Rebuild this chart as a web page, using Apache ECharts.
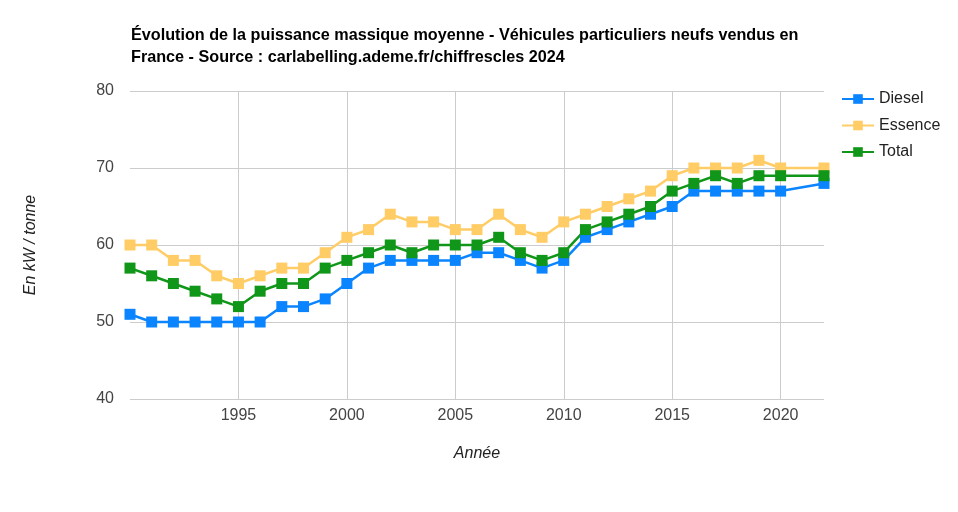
<!DOCTYPE html>
<html><head><meta charset="utf-8">
<script src="https://cdn.jsdelivr.net/npm/echarts@6/dist/echarts.min.js"></script>
<style>html,body{margin:0;padding:0;background:#fff}#c{width:958px;height:512px}</style>
</head><body><div id="c"></div>
<script>
const years = [1990,1991,1992,1993,1994,1995,1996,1997,1998,1999,2000,2001,2002,2003,2004,2005,2006,2007,2008,2009,2010,2011,2012,2013,2014,2015,2016,2017,2018,2019,2020,2022];
const diesel = [51,50,50,50,50,50,50,52,52,53,55,57,58,58,58,58,59,59,58,57,58,61,62,63,64,65,67,67,67,67,67,68];
const essence = [60,60,58,58,56,55,56,57,57,59,61,62,64,63,63,62,62,64,62,61,63,64,65,66,67,69,70,70,70,71,70,70];
const total = [57,56,55,54,53,52,54,55,55,57,58,59,60,59,60,60,60,61,59,58,59,62,63,64,65,67,68,69,68,69,69,69];
const yTicks = [40,50,60,70,80];

const pair = arr => years.map((y,i)=>[y,arr[i]]);
const mk = (name, data, color) => ({
  name, type:'line', data: pair(data), symbol:'rect', symbolSize:11,
  itemStyle:{color}, lineStyle:{color, width:2.5}, emphasis:{disabled:true}
});
const chart = echarts.init(document.getElementById('c'));
chart.setOption({
  animation:false,
  textStyle:{fontFamily:'Arial, "Liberation Sans", sans-serif'},
  title:{
    text:'Évolution de la puissance massique moyenne - Véhicules particuliers neufs vendus en\nFrance - Source : carlabelling.ademe.fr/chiffrescles 2024',
    left:126, top:20,
    textStyle:{fontSize:16.2, fontWeight:'bold', color:'#000', lineHeight:22, fontFamily:'Arial, "Liberation Sans", sans-serif'}
  },
  legend:{
    orient:'vertical', left:841, top:91, padding:0, itemGap:10.5, itemWidth:32, itemHeight:12,
    textStyle:{fontSize:16, color:'#222'},
    data:['Diesel','Essence','Total']
  },
  grid:{left:130, right:134, top:91, bottom:113},
  xAxis:{
    type:'value', min:1990, max:2022, interval:5,
    name:'Année', nameLocation:'middle', nameGap:47,
    nameTextStyle:{fontStyle:'italic', fontSize:16, color:'#222'},
    axisLine:{show:false}, axisTick:{show:false},
    axisLabel:{fontSize:16, color:'#444', showMinLabel:false, showMaxLabel:false, margin:9, formatter: v => String(v)},
    splitLine:{show:true, showMinLine:false, showMaxLine:false, lineStyle:{color:'#cccccc', width:1}}
  },
  yAxis:{
    type:'value', min:yTicks[0], max:yTicks[yTicks.length-1], interval:10,
    name:'En kW / tonne', nameLocation:'middle', nameGap:91, nameRotate:90,
    nameTextStyle:{fontStyle:'italic', fontSize:16, color:'#222'},
    axisLine:{show:false}, axisTick:{show:false},
    axisLabel:{fontSize:16, color:'#444', margin:16},
    splitLine:{lineStyle:{color:'#cccccc', width:1}}
  },
  series:[
    mk('Diesel', diesel, '#0a84ff'),
    mk('Essence', essence, '#ffcc66'),
    mk('Total', total, '#109618')
  ]
});
</script></body></html>
